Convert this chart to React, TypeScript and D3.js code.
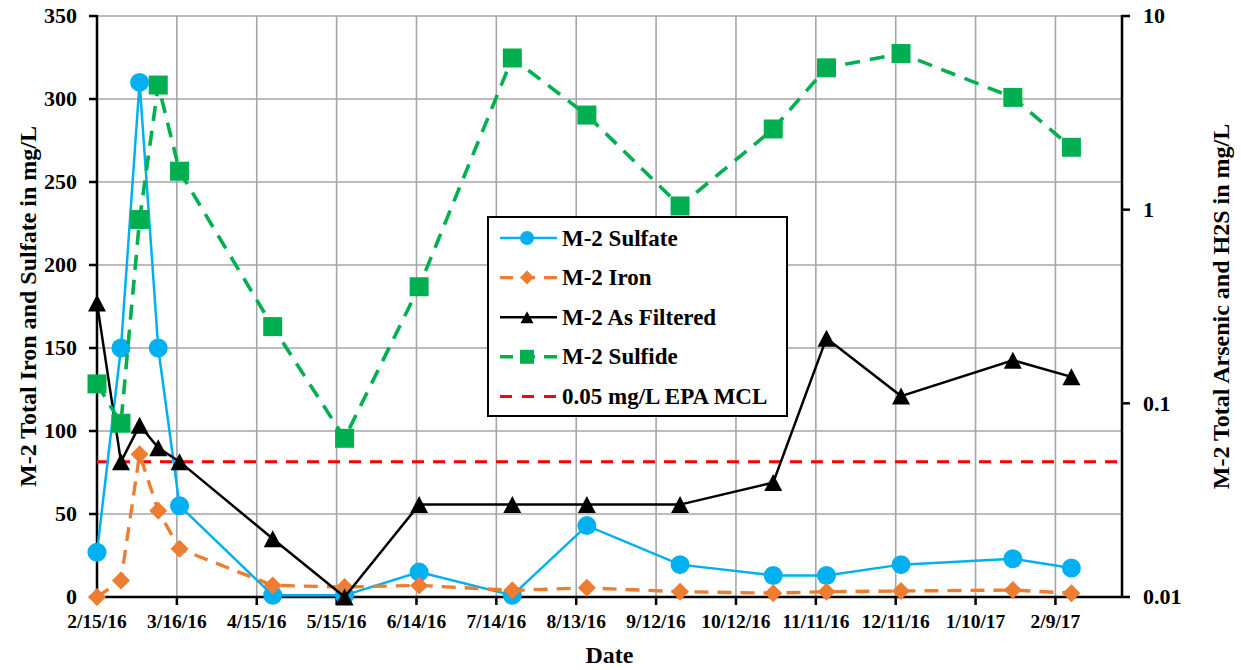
import React from "react";
import * as d3 from "d3";

// ---------- data ----------
const sampleDates = [
  "2/15/16", "2/24/16", "3/2/16", "3/9/16", "3/17/16", "4/21/16", "5/18/16", "6/15/16",
  "7/20/16", "8/17/16", "9/21/16", "10/26/16", "11/15/16", "12/13/16", "1/24/17", "2/15/17",
];
const sulfate = [27, 150, 310, 150, 55, 1, 1, 15, 1, 43, 19.5, 13, 13, 19.5, 23, 17.5];
const iron = [0, 10, 86, 52, 29, 7, 6, 7, 4, 5.5, 3.2, 2.3, 3.2, 3.6, 4.2, 2.3];
const asFiltered = [0.33, 0.05, 0.077, 0.059, 0.05, 0.02, 0.01, 0.03, 0.03, 0.03, 0.03, 0.039, 0.217, 0.109, 0.167, 0.137];
const sulfide = [0.126, 0.079, 0.89, 4.4, 1.58, 0.249, 0.066, 0.4, 6.07, 3.08, 1.045, 2.61, 5.4, 6.4, 3.8, 2.1];
const mclValue = 0.05;

const xTickLabels = [
  "2/15/16", "3/16/16", "4/15/16", "5/15/16", "6/14/16", "7/14/16", "8/13/16",
  "9/12/16", "10/12/16", "11/11/16", "12/11/16", "1/10/17", "2/9/17",
];
const xDomain = ["2/15/16", "3/6/17"];
const leftTicks = [0, 50, 100, 150, 200, 250, 300, 350];
const rightTicks = [0.01, 0.1, 1, 10];
const rightTickLabels = ["0.01", "0.1", "1", "10"];

const legendLabels = ["M-2 Sulfate", "M-2 Iron", "M-2 As Filtered", "M-2 Sulfide", "0.05 mg/L EPA MCL"];
const leftTitle = "M-2 Total Iron and Sulfate in mg/L";
const rightTitle = "M-2 Total Arsenic and H2S in mg/L";
const xTitle = "Date";

// ---------- styles ----------
const W = 1241, H = 670;
const M = { left: 97, right: 1122, top: 16, bottom: 597 };
const FONT = "'Liberation Serif', 'Times New Roman', serif";
const C = { blue: "#00B0F0", orange: "#ED7D31", black: "#000000", green: "#00B050", red: "#FF0000", grid: "#A6A6A6" };

const parse = d3.utcParse("%m/%d/%y");

function circlePath(x: number, y: number, r: number) {
  return `M${x - r},${y}A${r},${r} 0 1,0 ${x + r},${y}A${r},${r} 0 1,0 ${x - r},${y}Z`;
}
function diamondPath(x: number, y: number, h: number) {
  return `M${x},${y - h}L${x + h},${y}L${x},${y + h}L${x - h},${y}Z`;
}
function trianglePath(x: number, y: number, w: number, h: number) {
  return `M${x},${y - h / 2}L${x + w / 2},${y + h / 2}L${x - w / 2},${y + h / 2}Z`;
}
function squarePath(x: number, y: number, s: number) {
  return `M${x - s / 2},${y - s / 2}h${s}v${s}h${-s}Z`;
}

export default function App() {
  const dates = sampleDates.map((s) => parse(s) as Date);
  const x = d3.scaleUtc().domain(xDomain.map((s) => parse(s) as Date)).range([M.left, M.right]);
  const yL = d3.scaleLinear().domain([0, 350]).range([M.bottom, M.top]);
  const yR = d3.scaleLog().domain([0.01, 10]).range([M.bottom, M.top]);
  const xTicks = xTickLabels.map((s) => parse(s) as Date);

  const mk = (vals: number[], y: (v: number) => number) =>
    d3.line<number>().x((_, i) => x(dates[i])).y((v) => y(v))(vals) || "";

  const sulfLine = mk(sulfate, yL);
  const ironLine = mk(iron, yL);
  const asLine = mk(asFiltered, yR);
  const sfdLine = mk(sulfide, yR);

  const legendX = 488, legendY = 217, legendW = 299, legendH = 199;
  const rowY = (i: number) => 238 + i * 39.6;
  const sx0 = 500, sx1 = 557, sxm = 527;

  return (
    <svg width={W} height={H} style={{ position: "absolute", left: 0, top: 0, background: "#fff" }} fontFamily={FONT} fontWeight="bold">
      <rect x={0} y={0} width={W} height={H} fill="#fff" />
      {/* gridlines */}
      {leftTicks.slice(1).map((t) => (
        <line key={"h" + t} x1={M.left} x2={M.right} y1={yL(t)} y2={yL(t)} stroke={C.grid} strokeWidth={1.6} />
      ))}
      {xTicks.slice(1).map((d, i) => (
        <line key={"v" + i} x1={x(d)} x2={x(d)} y1={M.top} y2={M.bottom} stroke={C.grid} strokeWidth={1.6} />
      ))}

      {/* axes */}
      <line x1={M.left} x2={M.left} y1={M.top - 1} y2={M.bottom + 1} stroke="#000" strokeWidth={2.5} />
      <line x1={M.right} x2={M.right} y1={M.top - 1} y2={M.bottom + 1} stroke="#000" strokeWidth={2.5} />
      <line x1={M.left} x2={M.right} y1={M.bottom} y2={M.bottom} stroke="#000" strokeWidth={2.5} />
      {leftTicks.map((t) => (
        <g key={"lt" + t}>
          <line x1={M.left - 8} x2={M.left} y1={yL(t)} y2={yL(t)} stroke="#000" strokeWidth={2.5} />
          <text x={77} y={yL(t)} dy="0.33em" textAnchor="end" fontSize={22}>{t}</text>
        </g>
      ))}
      {rightTicks.map((t, i) => (
        <g key={"rt" + t}>
          <line x1={M.right} x2={M.right + 8} y1={yR(t)} y2={yR(t)} stroke="#000" strokeWidth={2.5} />
          <text x={1143} y={yR(t)} dy="0.33em" textAnchor="start" fontSize={22}>{rightTickLabels[i]}</text>
        </g>
      ))}
      {xTicks.map((d, i) => (
        <g key={"xt" + i}>
          <line x1={x(d)} x2={x(d)} y1={M.bottom} y2={M.bottom + 8} stroke="#000" strokeWidth={2.5} />
          <text x={x(d)} y={628} textAnchor="middle" fontSize={19.5}>{xTickLabels[i]}</text>
        </g>
      ))}

      {/* titles */}
      <text x={(M.left + M.right) / 2} y={663} textAnchor="middle" fontSize={24}>{xTitle}</text>
      <text transform={`translate(36,${(M.top + M.bottom) / 2}) rotate(-90)`} textAnchor="middle" fontSize={24}>{leftTitle}</text>
      <text transform={`translate(1229,${(M.top + M.bottom) / 2}) rotate(-90)`} textAnchor="middle" fontSize={24}>{rightTitle}</text>

      {/* MCL line */}
      <line x1={M.left} x2={M.right} y1={yR(mclValue)} y2={yR(mclValue)} stroke={C.red} strokeWidth={3} strokeDasharray="12 9" />

      {/* Sulfate */}
      <path d={sulfLine} fill="none" stroke={C.blue} strokeWidth={2.5} />
      {sulfate.map((v, i) => (
        <path key={"s" + i} d={circlePath(x(dates[i]), yL(v), 9.5)} fill={C.blue} />
      ))}

      {/* Iron */}
      <path d={ironLine} fill="none" stroke={C.orange} strokeWidth={3.4} strokeDasharray="14 9" />
      {iron.map((v, i) => (
        <path key={"i" + i} d={diamondPath(x(dates[i]), yL(v), 9)} fill={C.orange} />
      ))}

      {/* As filtered */}
      <path d={asLine} fill="none" stroke={C.black} strokeWidth={2.5} />
      {asFiltered.map((v, i) => (
        <path key={"a" + i} d={trianglePath(x(dates[i]), yR(v), 18, 17)} fill={C.black} />
      ))}

      {/* Sulfide */}
      <path d={sfdLine} fill="none" stroke={C.green} strokeWidth={3.6} strokeDasharray="15 10" />
      {sulfide.map((v, i) => (
        <path key={"g" + i} d={squarePath(x(dates[i]), yR(v), 19)} fill={C.green} />
      ))}

      {/* legend */}
      <rect x={legendX} y={legendY} width={legendW} height={legendH} fill="#fff" stroke="#000" strokeWidth={2} />
      <line x1={sx0} x2={sx1} y1={rowY(0)} y2={rowY(0)} stroke={C.blue} strokeWidth={2.5} />
      <path d={circlePath(sxm, rowY(0), 7)} fill={C.blue} />
      <line x1={sx0} x2={sx1} y1={rowY(1)} y2={rowY(1)} stroke={C.orange} strokeWidth={3.2} strokeDasharray="13 9" />
      <path d={diamondPath(sxm, rowY(1), 7)} fill={C.orange} />
      <line x1={sx0} x2={sx1} y1={rowY(2)} y2={rowY(2)} stroke={C.black} strokeWidth={2.5} />
      <path d={trianglePath(sxm, rowY(2), 13, 12)} fill={C.black} />
      <line x1={sx0} x2={sx1} y1={rowY(3)} y2={rowY(3)} stroke={C.green} strokeWidth={3.6} strokeDasharray="13 9" />
      <path d={squarePath(sxm, rowY(3), 14)} fill={C.green} />
      <line x1={sx0} x2={sx1} y1={rowY(4)} y2={rowY(4)} stroke={C.red} strokeWidth={3} strokeDasharray="12 10" />
      {legendLabels.map((l, i) => (
        <text key={"lg" + i} x={562} y={rowY(i)} dy="0.33em" fontSize={23}>{l}</text>
      ))}
    </svg>
  );
}
